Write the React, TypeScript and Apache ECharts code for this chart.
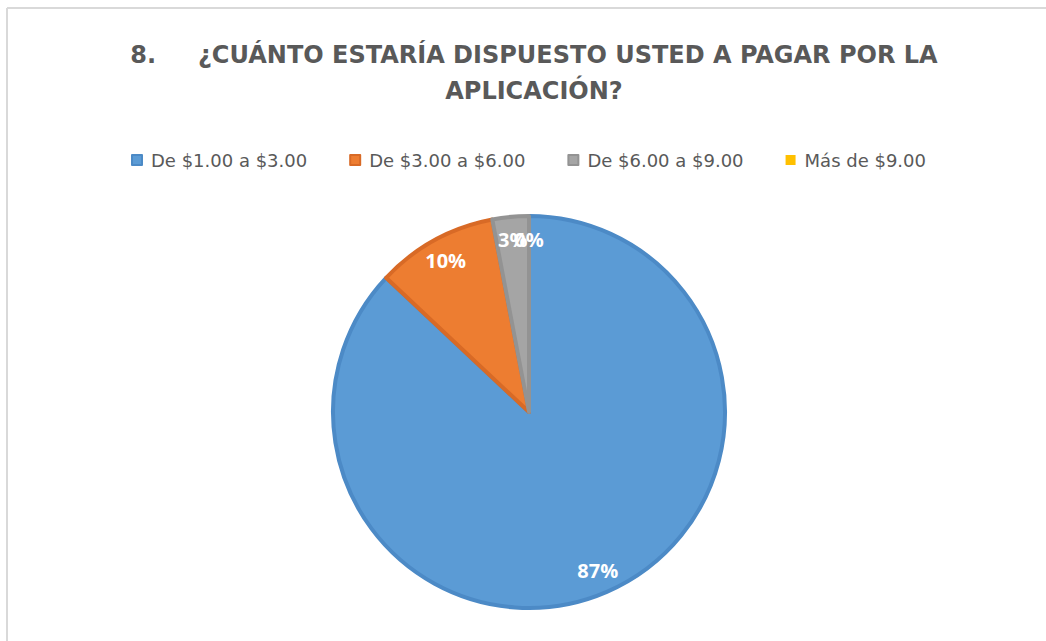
import React, { useEffect, useRef } from "react";
import * as echarts from "echarts";

const titleLines = ["8.     ¿CUÁNTO ESTARÍA DISPUESTO USTED A PAGAR POR LA", "APLICACIÓN?"];
const categories = ["De $1.00 a $3.00", "De $3.00 a $6.00", "De $6.00 a $9.00", "Más de $9.00"];
const values = [87, 10, 3, 0];
const colors = ["#5b9bd5", "#ed7d31", "#a5a5a5", "#ffc000"];
const borderColors = ["#4c8ac6", "#d86a26", "#939393", "#e6ad00"];

export default function App() {
  const ref = useRef<HTMLDivElement>(null);
  useEffect(() => {
    if (!ref.current) return;
    const chart = echarts.init(ref.current, undefined, { renderer: "svg" });
    const cx = 529;
    const cy = 412;
    const R = 196;
    const labelR = 173;
    const total = values.reduce((a, b) => a + b, 0);

    // data labels: placed at the middle angle of each slice (derived from the values)
    const labelTexts: any[] = [];
    let cum = 0;
    values.forEach((v) => {
      const mid = ((cum + v / 2) / total) * Math.PI * 2;
      cum += v;
      labelTexts.push({
        type: "text",
        x: cx + labelR * Math.sin(mid),
        y: cy - labelR * Math.cos(mid),
        z: 100,
        silent: true,
        style: {
          text: Math.round((v / total) * 100) + "%",
          fill: "#ffffff",
          font: "bold 20px 'Open Sans'",
          align: "center",
          verticalAlign: "middle",
        },
      });
    });

    chart.setOption({
      animation: false,
      backgroundColor: "#ffffff",
      title: {
        text: titleLines.join("\n"),
        left: cx,
        top: 32,
        textAlign: "center",
        textStyle: {
          fontFamily: "DejaVu Sans",
          fontWeight: "bold",
          fontSize: 24,
          lineHeight: 36,
          color: "#595959",
        },
      },
      legend: {
        data: categories,
        left: 126,
        top: 146,
        itemWidth: 10,
        itemHeight: 10,
        itemGap: 42,
        icon: "rect",
        textStyle: {
          fontFamily: "DejaVu Sans",
          fontSize: 18,
          color: "#595959",
          padding: [0, 0, 0, 4],
        },
      },
      graphic: [
        { type: "line", shape: { x1: 7, y1: 8, x2: 1046, y2: 8 }, style: { stroke: "#d9d9d9", lineWidth: 2 } },
        { type: "line", shape: { x1: 7, y1: 8, x2: 7, y2: 641 }, style: { stroke: "#d9d9d9", lineWidth: 2 } },
        ...labelTexts,
      ],
      series: [
        {
          type: "pie",
          center: [cx, cy],
          radius: [0, R],
          startAngle: 90,
          clockwise: true,
          avoidLabelOverlap: false,
          label: { show: false },
          labelLine: { show: false },
          emphasis: { disabled: true },
          data: categories.map((name, i) => ({
            name,
            value: values[i],
            itemStyle: {
              color: colors[i],
              borderColor: borderColors[i],
              borderWidth: values[i] > 0 ? 4 : 0,
            },
          })),
        },
      ],
    });
    return () => chart.dispose();
  }, []);
  return (
    <div
      ref={ref}
      style={{ position: "absolute", left: 0, top: 0, width: 1046, height: 641 }}
    />
  );
}
